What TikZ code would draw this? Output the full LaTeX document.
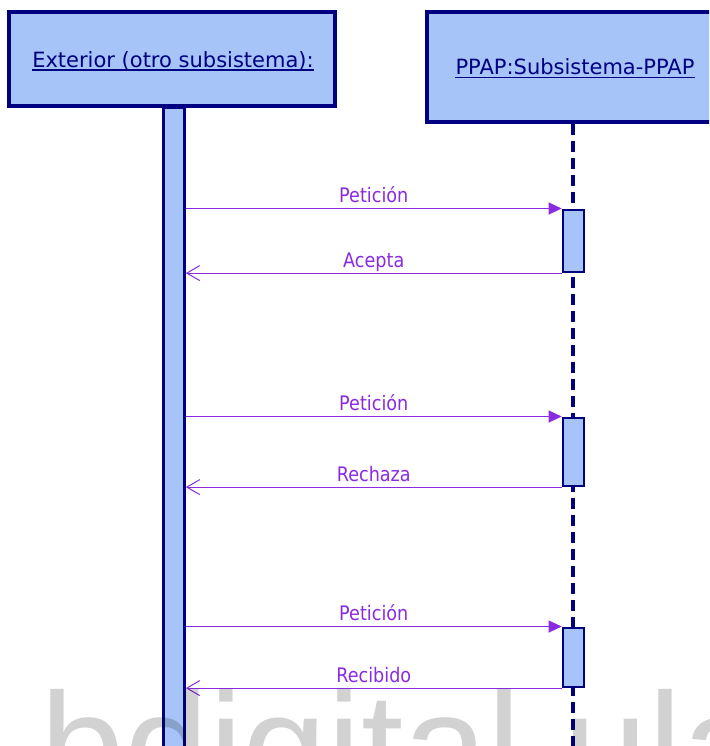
\documentclass[tikz,border=0pt]{standalone}
\usepackage{fontspec}
\setmainfont{DejaVu Sans}
\newfontfamily\hdrfont{DejaVu Sans}
\newfontfamily\lblfont[FakeStretch=0.88]{DejaVu Sans}
\newfontfamily\wmfont{Liberation Sans}
\usetikzlibrary{arrows.meta}
\definecolor{navyc}{RGB}{0,0,128}
\definecolor{fillc}{RGB}{166,196,247}
\definecolor{msgc}{RGB}{138,43,226}
\tikzset{
  objbox/.style={draw=navyc, fill=fillc, line width=3.2pt, inner sep=0pt},
  objtext/.style={text=navyc, inner sep=0pt, font=\hdrfont\fontsize{21}{25}\selectfont},
  uline/.style={draw=navyc, line width=1.4pt},
  barbox/.style={draw=navyc, fill=fillc, line width=2.6pt, inner sep=0pt, minimum width=21pt},
  lifeline/.style={draw=navyc, line width=3.2pt, dash pattern=on 11pt off 6pt},
  reqmsg/.style={draw=msgc, line width=1pt, -{Triangle[length=13pt,width=12pt]}},
  retmsg/.style={draw=msgc, line width=1pt, -{Straight Barb[length=13pt,width=15pt]}},
  lbl/.style={text=msgc, inner sep=0pt, anchor=base, yshift=6pt, font=\lblfont\fontsize{20}{24}\selectfont},
  wm/.style={text=black, text opacity=0.175, inner sep=0pt, anchor=base west, font=\wmfont\fontsize{152}{152}\selectfont}
}
\begin{document}
\begin{tikzpicture}[x=1pt,y=-1pt]
\clip (0,0) rectangle (709,746);
\useasboundingbox (0,0) rectangle (709,746);

% lifelines
\node[barbox, minimum height=680pt, anchor=north] (barL) at (174,106) {};
\coordinate (lifeEnd) at (573,770);

% headers
\node[objbox, minimum width=326pt, minimum height=94pt] (objA) at (172,59) {};
\node[objtext, anchor=base] (objAtxt) at (173,68) {Exterior (otro subsistema):};
\draw[uline] ([yshift=-2pt]objAtxt.base west) -- ([yshift=-2pt]objAtxt.base east);

\node[objbox, minimum width=292pt, minimum height=110pt] (objB) at (573,67) {};
\node[objtext, anchor=base] (objBtxt) at (575,75) {PPAP:Subsistema-PPAP};
\draw[uline] ([yshift=-2.5pt]objBtxt.base west) -- ([yshift=-2.5pt]objBtxt.base east);

\draw[lifeline] (objB.south) -- (objB.south |- lifeEnd);

% activations
\node[barbox, minimum height=62pt, anchor=north] (act1) at (573.5,208.5) {};
\node[barbox, minimum height=68pt, anchor=north] (act2) at (573.5,416.5) {};
\node[barbox, minimum height=59pt, anchor=north] (act3) at (573.5,626.5) {};

% messages
\draw[reqmsg] (barL.east |- act1.north) -- (act1.north west) node[lbl, midway] (m1) {Petición};
\draw[retmsg] (act1.south west) -- (barL.east |- act1.south) node[lbl, midway] (m2) {Acepta};
\draw[reqmsg] (barL.east |- act2.north) -- (act2.north west) node[lbl, midway] (m3) {Petición};
\draw[retmsg] (act2.south west) -- (barL.east |- act2.south) node[lbl, midway] (m4) {Rechaza};
\draw[reqmsg] (barL.east |- act3.north) -- (act3.north west) node[lbl, midway] (m5) {Petición};
\draw[retmsg] (act3.south west) -- (barL.east |- act3.south) node[lbl, midway] (m6) {Recibido};

% watermark
\node[wm] (wmark) at (40,799) {bdigital.ula.ve};
\end{tikzpicture}
\end{document}
